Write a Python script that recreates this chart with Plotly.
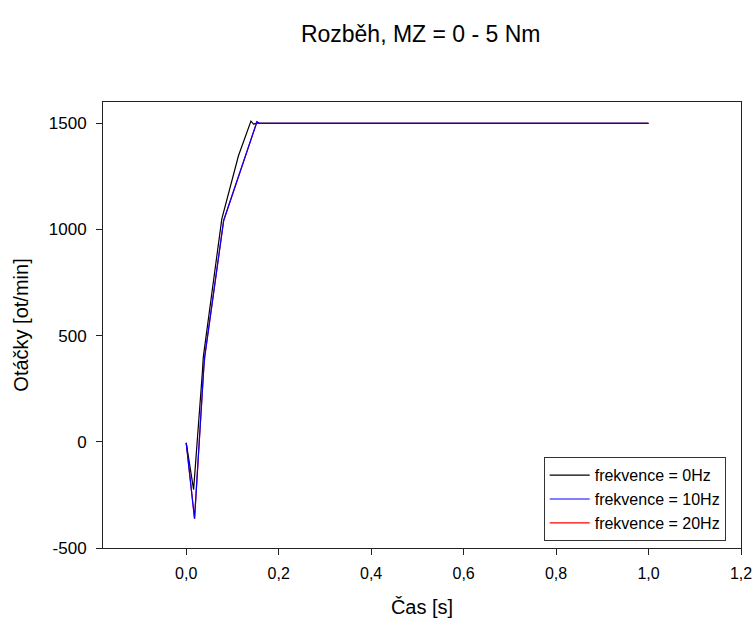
import plotly.graph_objects as go

# Data
t_0hz = [0.0, 0.016, 0.035, 0.037, 0.077, 0.113, 0.140, 0.146, 0.150, 1.0]
n_0hz = [-5, -225, 330, 400, 1050, 1347, 1510, 1495, 1500, 1500]

t_10hz = [0.0, 0.018, 0.038, 0.040, 0.081, 0.153, 0.158, 1.0]
n_10hz = [-5, -362, 350, 400, 1042, 1507, 1500, 1500]

t_20hz = [0.0, 0.018, 0.038, 0.040, 0.081, 0.153, 0.158, 1.0]
n_20hz = [-5, -362, 350, 400, 1042, 1507, 1500, 1500]

x_ticks = [0.0, 0.2, 0.4, 0.6, 0.8, 1.0, 1.2]
y_ticks = [-500, 0, 500, 1000, 1500]
y_tick_labels = ["-500", "0", "500", "1000", "1500"]

FONT = "Liberation Sans, Arial, sans-serif"

fig = go.Figure()
fig.add_trace(go.Scatter(x=t_20hz, y=n_20hz, mode="lines", name="frekvence = 20Hz",
                         line=dict(color="#ff0000", width=1.2), legendrank=3))
fig.add_trace(go.Scatter(x=t_0hz, y=n_0hz, mode="lines", name="frekvence = 0Hz",
                         line=dict(color="#000000", width=1.2), legendrank=1))
fig.add_trace(go.Scatter(x=t_10hz, y=n_10hz, mode="lines", name="frekvence = 10Hz",
                         line=dict(color="#0000ff", width=1.2), legendrank=2))

fig.update_layout(
    width=754, height=622,
    margin=dict(l=103, r=13, t=102, b=74, autoexpand=False),
    paper_bgcolor="white", plot_bgcolor="white",
    separators=", ",
    font=dict(family=FONT, color="black"),
    title=dict(text="Rozběh, MZ = 0 - 5 Nm", xref="paper", x=0.498, xanchor="center",
               yref="container", y=0.945, yanchor="middle",
               font=dict(size=23, family=FONT, color="black")),
    showlegend=True,
    legend=dict(x=0.976, xanchor="right", y=0.015, yanchor="bottom",
                bgcolor="white", bordercolor="#333333", borderwidth=1,
                font=dict(size=16, family=FONT, color="black"),
                traceorder="normal", itemwidth=40),
    xaxis=dict(range=[-0.18, 1.2], tickvals=x_ticks, tickformat=".1f",
               automargin=False,
               showgrid=False, zeroline=False, showline=True, linecolor="#222222",
               linewidth=1, mirror=True, ticks="outside", ticklen=6, tickcolor="#222222",
               tickfont=dict(size=16), ticklabelstandoff=5,
               title=dict(text="Čas [s]", font=dict(size=20), standoff=18)),
    yaxis=dict(range=[-500, 1600], tickvals=y_ticks, ticktext=y_tick_labels,
               automargin=False,
               showgrid=False, zeroline=False, showline=True, linecolor="#222222",
               linewidth=1, mirror=True, ticks="outside", ticklen=6, tickcolor="#222222",
               tickfont=dict(size=17), ticklabelstandoff=6,
               title=dict(text="Otáčky [ot/min]", font=dict(size=20), standoff=14)),
)

fig.write_html("out.html", config={"displayModeBar": False},
               post_script="document.body.style.margin='0';document.body.style.padding='0';")
